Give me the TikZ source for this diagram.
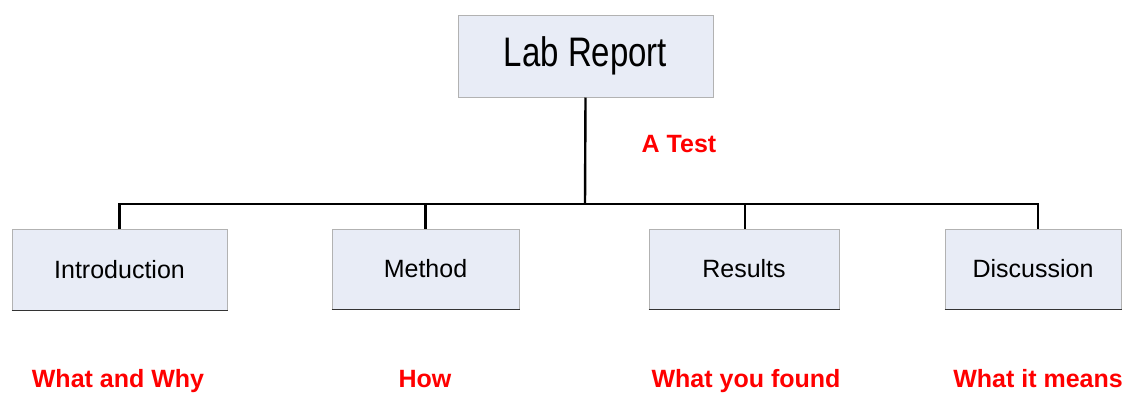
\documentclass[tikz,border=0pt]{standalone}
\usepackage{fontspec}
\setmainfont{Liberation Sans}
\definecolor{boxfill}{HTML}{E8ECF6}
\definecolor{lblred}{HTML}{FF0000}
\begin{document}
\begin{tikzpicture}[x=1pt,y=-1pt,
 box/.style={draw=gray!60, line width=1pt, fill=boxfill, inner sep=0pt, font=\fontsize{25}{29}\selectfont},
 boxbottom/.style={line width=1.6pt, black!80},
 conn/.style={line width=2.4pt, black},
 lbl/.style={text=lblred, font=\bfseries\fontsize{25}{29}\selectfont, inner sep=0pt, anchor=base}]
\useasboundingbox (0,0) rectangle (1123,394);
\node[box, minimum width=255pt, minimum height=82pt, font=\fontsize{33}{38}\selectfont] (top) at (585.5,56) {\scalebox{1}[1.25]{Lab Report}};
\node[box, minimum width=215pt, minimum height=81pt] (intro) at (119.5,269.5) {Introduction};
\node[box, minimum width=187pt, minimum height=80pt] (method) at (425.5,269) {Method};
\node[box, minimum width=190pt, minimum height=80pt] (results) at (744,269) {Results};
\node[box, minimum width=176pt, minimum height=80pt] (disc) at (1033,269) {Discussion};
\foreach \n in {intro,method,results,disc}{
  \draw[boxbottom] (\n.south west) -- (\n.south east);
}
\coordinate (bus) at (585,204);
\draw[conn] (top.south) -- (bus);
\draw[conn] (bus) -| (intro.north);
\draw[conn] (bus) -| (method.north);
\draw[conn] (bus) -| ([xshift=1pt]results.north);
\draw[conn] (bus) -| ([xshift=5pt]disc.north);
\node[lbl] (atest) at (679,152) {A Test};
\node[lbl] (lintro) at (118,387) {What and Why};
\node[lbl] (lmethod) at (425,387) {How};
\node[lbl] (lresults) at (746,387) {What you found};
\node[lbl] (ldisc) at (1038,387) {What it means};
\end{tikzpicture}
\end{document}
